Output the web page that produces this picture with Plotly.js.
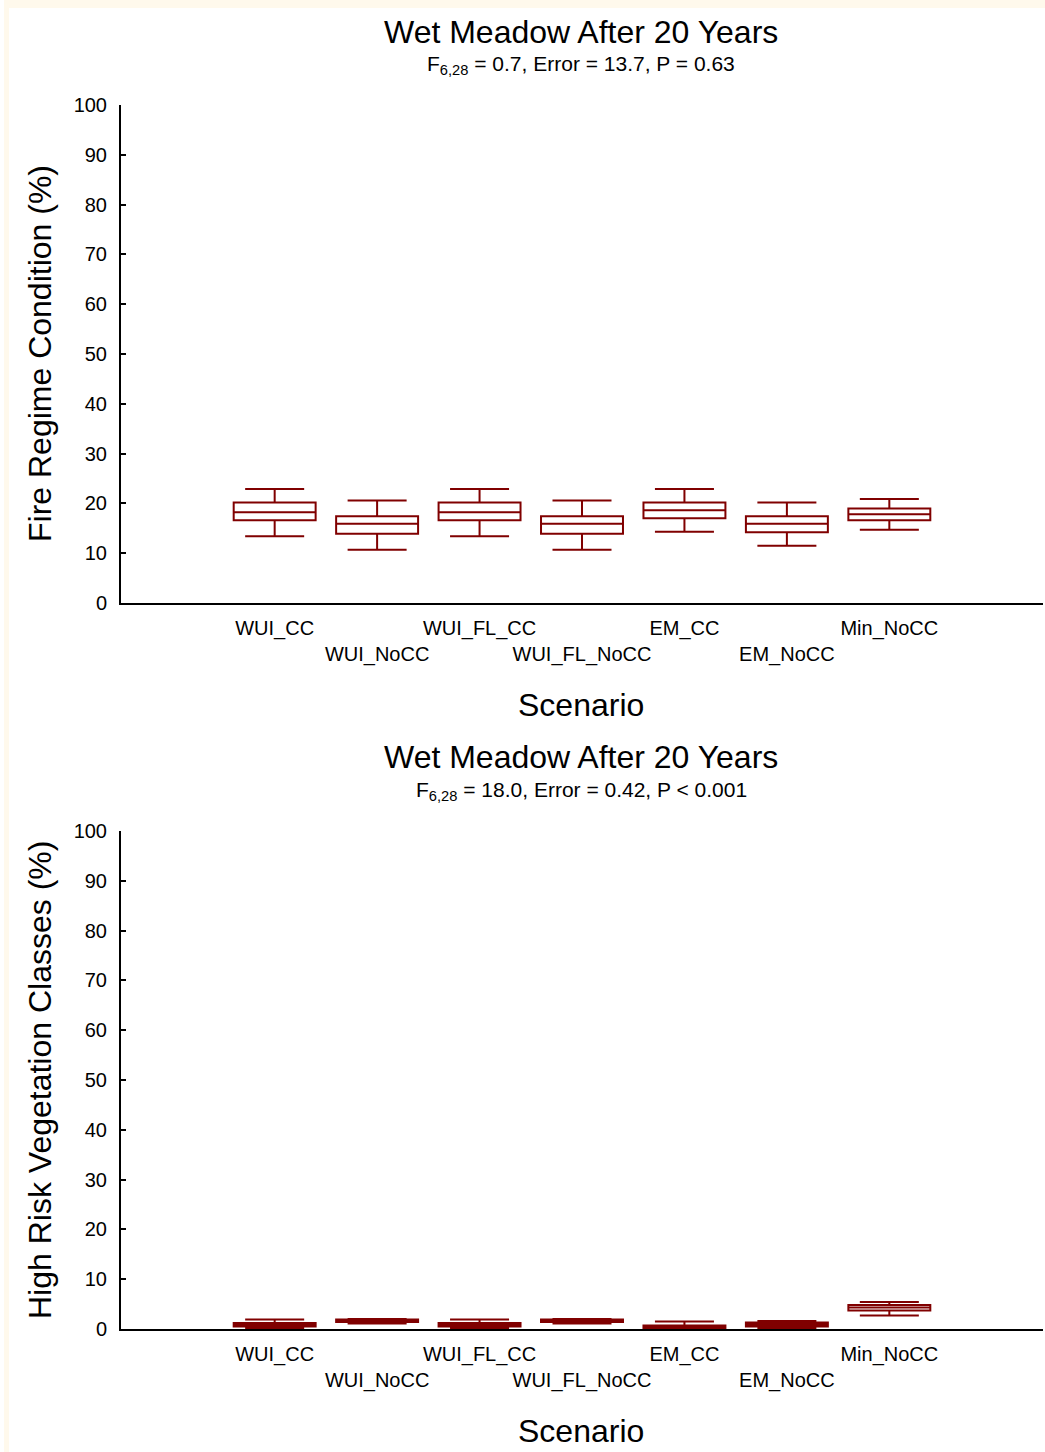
<!DOCTYPE html>
<html>
<head>
<meta charset="utf-8">
<script src="https://cdn.plot.ly/plotly-3.0.1.min.js"></script>
<style>
  html, body { margin: 0; padding: 0; background: #ffffff; }
  #chart { width: 1045px; height: 1452px; }
</style>
</head>
<body>
<div id="chart"></div>
<script>
// ---- Data ----
const categories = ['WUI_CC', 'WUI_NoCC', 'WUI_FL_CC', 'WUI_FL_NoCC', 'EM_CC', 'EM_NoCC', 'Min_NoCC'];

// Fire Regime Condition (%)
const fireLower  = [13.4, 10.7, 13.4, 10.7, 14.3, 11.5, 14.7];
const fireQ1     = [16.6, 13.9, 16.6, 13.9, 17.0, 14.2, 16.6];
const fireMedian = [18.2, 15.9, 18.2, 15.9, 18.6, 15.9, 17.8];
const fireQ3     = [20.2, 17.4, 20.2, 17.4, 20.2, 17.4, 19.0];
const fireUpper  = [22.9, 20.6, 22.9, 20.6, 22.9, 20.2, 20.9];

// High Risk Vegetation Classes (%)
const riskLower  = [0.2, 1.1, 0.2, 1.1, 0.0, 0.1, 2.7];
const riskQ1     = [0.5, 1.4, 0.5, 1.4, 0.1, 0.5, 3.7];
const riskMedian = [0.8, 1.7, 0.8, 1.7, 0.4, 0.9, 4.3];
const riskQ3     = [1.2, 1.9, 1.2, 1.9, 0.7, 1.3, 4.8];
const riskUpper  = [1.9, 2.0, 1.9, 2.0, 1.5, 1.6, 5.4];

const yTicks = [0, 10, 20, 30, 40, 50, 60, 70, 80, 90, 100];
const xTickText = categories.map((c, i) => (i % 2 === 1 ? '<br>' + c : c));

const titleMain = 'Wet Meadow After 20 Years';
const subTop = 'F<sub>6,28</sub> = 0.7, Error = 13.7, P = 0.63';
const subBottom = 'F<sub>6,28</sub> = 18.0, Error = 0.42, P &lt; 0.001';
const yTitleTop = 'Fire Regime Condition (%)';
const yTitleBottom = 'High Risk Vegetation Classes (%)';
const xTitle = 'Scenario';

// ---- Styling ----
const W = 1045, H = 1452;
const FONT = 'Liberation Sans, Arial, sans-serif';
const boxColor = '#800000';
const px = v => v / W;
const py = v => 1 - v / H;

function boxTrace(lo, q1, med, q3, hi, xa, ya) {
  return {
    type: 'box',
    x: categories,
    lowerfence: lo, q1: q1, median: med, q3: q3, upperfence: hi,
    xaxis: xa, yaxis: ya,
    width: 0.8,
    whiskerwidth: 0.72,
    line: { color: boxColor, width: 2 },
    fillcolor: 'rgba(0,0,0,0)',
    hoverinfo: 'skip',
    showlegend: false
  };
}

const data = [
  boxTrace(fireLower, fireQ1, fireMedian, fireQ3, fireUpper, 'x', 'y'),
  boxTrace(riskLower, riskQ1, riskMedian, riskQ3, riskUpper, 'x2', 'y2')
];

function xAxis(anchor, dom) {
  return {
    anchor: anchor,
    domain: dom,
    type: 'category',
    range: [-1.5, 7.5],
    tickmode: 'array',
    tickvals: categories,
    ticktext: xTickText,
    tickangle: 0,
    ticks: '',
    ticklabelstandoff: 6,
    showline: true, linecolor: '#000', linewidth: 2,
    showgrid: false, zeroline: false,
    tickfont: { family: FONT, size: 20, color: '#000' },
    fixedrange: true
  };
}
function yAxis(anchor, dom) {
  return {
    anchor: anchor,
    domain: dom,
    range: [0, 100],
    tickmode: 'array',
    tickvals: yTicks,
    ticks: 'inside', ticklen: 5, tickwidth: 2, tickcolor: '#000',
    ticklabelstandoff: 8,
    showline: true, linecolor: '#000', linewidth: 2,
    showgrid: false, zeroline: false,
    tickfont: { family: FONT, size: 20, color: '#000' },
    fixedrange: true
  };
}

const xDom = [px(121), px(1043)];
const layout = {
  width: W, height: H,
  margin: { l: 0, r: 0, t: 0, b: 0, pad: 0 },
  paper_bgcolor: '#ffffff',
  plot_bgcolor: 'rgba(0,0,0,0)',
  showlegend: false,
  font: { family: FONT, color: '#000' },
  xaxis: xAxis('y', xDom),
  yaxis: yAxis('x', [py(603), py(105)]),
  xaxis2: xAxis('y2', xDom),
  yaxis2: yAxis('x2', [py(1329), py(831)]),
  shapes: [
    { type: 'rect', xref: 'paper', yref: 'paper', x0: px(4), x1: 1, y0: py(8), y1: 1,
      fillcolor: '#fff9ec', line: { width: 0 }, layer: 'below' },
    { type: 'rect', xref: 'paper', yref: 'paper', x0: px(4), x1: px(9), y0: 0, y1: 1,
      fillcolor: '#fff9ec', line: { width: 0 }, layer: 'below' }
  ],
  annotations: [
    { text: titleMain, x: px(581), y: py(32), xref: 'paper', yref: 'paper', showarrow: false,
      font: { family: FONT, size: 32 }, xanchor: 'center', yanchor: 'middle' },
    { text: subTop, x: px(581), y: py(65), xref: 'paper', yref: 'paper', showarrow: false,
      font: { family: FONT, size: 21 }, xanchor: 'center', yanchor: 'middle' },
    { text: xTitle, x: px(581), y: py(705), xref: 'paper', yref: 'paper', showarrow: false,
      font: { family: FONT, size: 32 }, xanchor: 'center', yanchor: 'middle' },
    { text: yTitleTop, x: px(40), y: py(354), xref: 'paper', yref: 'paper', showarrow: false,
      textangle: -90, font: { family: FONT, size: 32 }, xanchor: 'center', yanchor: 'middle' },

    { text: titleMain, x: px(581), y: py(757), xref: 'paper', yref: 'paper', showarrow: false,
      font: { family: FONT, size: 32 }, xanchor: 'center', yanchor: 'middle' },
    { text: subBottom, x: px(581), y: py(791), xref: 'paper', yref: 'paper', showarrow: false,
      font: { family: FONT, size: 21 }, xanchor: 'center', yanchor: 'middle' },
    { text: xTitle, x: px(581), y: py(1431), xref: 'paper', yref: 'paper', showarrow: false,
      font: { family: FONT, size: 32 }, xanchor: 'center', yanchor: 'middle' },
    { text: yTitleBottom, x: px(40), y: py(1080), xref: 'paper', yref: 'paper', showarrow: false,
      textangle: -90, font: { family: FONT, size: 32 }, xanchor: 'center', yanchor: 'middle' }
  ]
};

Plotly.newPlot('chart', data, layout, { staticPlot: true, displayModeBar: false });
</script>
</body>
</html>
